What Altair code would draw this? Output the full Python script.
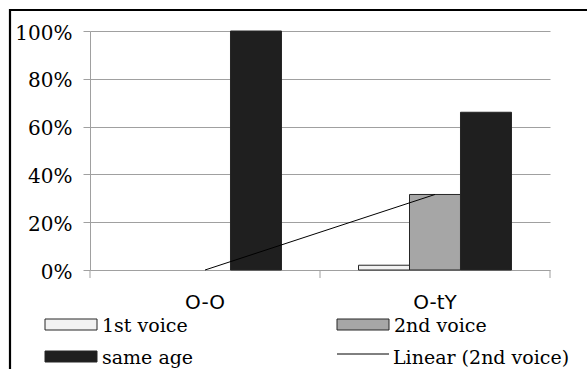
import altair as alt
import pandas as pd
import numpy as np

# ---------------- data ----------------
categories = ["O-O", "O-tY"]
series = ["1st voice", "2nd voice", "same age"]
first_voice = [0.0, 0.02]
second_voice = [0.0, 0.316]
same_age = [1.0, 0.66]
y_ticks = [0, 0.2, 0.4, 0.6, 0.8, 1.0]
trend_label = "Linear (2nd voice)"

# ---------------- styles / layout ----------------
fills = ["#f2f2f2", "#a6a6a6", "#1f1f1f"]
FONT = "DejaVu Serif"
XFONT = "DejaVu Sans"
GRID = "#a0a0a0"
W, H = 460, 239
PAD = {"left": 90, "top": 31, "right": 37, "bottom": 99}

rows = []
for s, vals in zip(series, [first_voice, second_voice, same_age]):
    for c, v in zip(categories, vals):
        rows.append({"category": c, "series": s, "value": v})
df = pd.DataFrame(rows)

# linear trend of 2nd voice
xi = np.arange(1, len(categories) + 1)
slope, intercept = np.polyfit(xi, second_voice, 1)
trend_df = pd.DataFrame({"category": categories, "value": slope * xi + intercept})

x_scale = alt.Scale(domain=categories, paddingInner=0, paddingOuter=0)
y_scale = alt.Scale(domain=[0, 1], nice=False)

bars = alt.Chart(df).transform_filter("datum.value > 0").mark_bar(
    stroke="#262626", strokeWidth=1
).encode(
    x=alt.X("category:N", scale=x_scale, sort=categories,
            axis=alt.Axis(title=None, labelAngle=0, domain=False, ticks=False, tickSize=0,
                          grid=False, labelFont=XFONT, labelFontSize=20, labelColor="black",
                          labelPadding=38, labelBaseline="alphabetic")),
    xOffset=alt.XOffset("series:N", sort=series,
                        scale=alt.Scale(domain=series, paddingInner=0, paddingOuter=0.755)),
    y=alt.Y("value:Q", scale=y_scale,
            axis=alt.Axis(title=None, values=y_ticks, format=".0%", grid=True, gridColor=GRID,
                          domainColor=GRID, tickColor=GRID, tickSize=7, labelPadding=11,
                          labelFont=FONT, labelFontSize=20, labelColor="black", labelOffset=2)),
    color=alt.Color("series:N", scale=alt.Scale(domain=series, range=fills), legend=None),
)

trend = alt.Chart(trend_df).mark_line(color="black", strokeWidth=1).encode(
    x=alt.X("category:N", scale=x_scale, sort=categories),
    y=alt.Y("value:Q", scale=y_scale),
)

# x-axis category boundary ticks
tick_df = pd.DataFrame({"px": [i * W / len(categories) for i in range(len(categories) + 1)]})
xticks = alt.Chart(tick_df).mark_rule(color=GRID, strokeWidth=1).encode(
    x=alt.X("px:Q", scale=None), y=alt.value(H), y2=alt.value(H + 8)
)

# outer frame
frame = alt.Chart(pd.DataFrame({"k": [0]})).mark_rect(
    fill=None, stroke="black", strokeWidth=2.2
).encode(x=alt.value(10 - PAD["left"]), x2=alt.value(700),
         y=alt.value(10 - PAD["top"]), y2=alt.value(500))

# manual legend (2 x 2)
col_x = [45 - PAD["left"], 337 - PAD["left"]]
row_base = [332 - PAD["top"], 364 - PAD["top"]]
sw_w, sw_h = 52, 11
entries = [(series[0], 0, 0), (series[1], 1, 0), (series[2], 0, 1)]
sw_df = pd.DataFrame([
    {"label": lab, "x": col_x[c], "x2": col_x[c] + sw_w,
     "y": row_base[r] - 13, "y2": row_base[r] - 13 + sw_h}
    for lab, c, r in entries
])
swatches = alt.Chart(sw_df).mark_rect(stroke="#262626", strokeWidth=1).encode(
    x=alt.X("x:Q", scale=None), x2="x2:Q",
    y=alt.Y("y:Q", scale=None), y2="y2:Q",
    color=alt.Color("label:N", scale=alt.Scale(domain=series, range=fills), legend=None),
)
line_df = pd.DataFrame([{"x": col_x[1], "x2": col_x[1] + sw_w, "y": row_base[1] - 10}])
line_sw = alt.Chart(line_df).mark_rule(color="black", strokeWidth=1).encode(
    x=alt.X("x:Q", scale=None), x2="x2:Q", y=alt.Y("y:Q", scale=None)
)
txt_df = pd.DataFrame(
    [{"label": lab, "x": col_x[c] + sw_w + 5, "y": row_base[r]} for lab, c, r in entries]
    + [{"label": trend_label, "x": col_x[1] + sw_w + 4, "y": row_base[1]}]
)
texts = alt.Chart(txt_df).mark_text(
    align="left", baseline="alphabetic", font=FONT, fontSize=19, color="black"
).encode(x=alt.X("x:Q", scale=None), y=alt.Y("y:Q", scale=None), text="label:N")

chart = alt.layer(frame, bars, trend, xticks, swatches, line_sw, texts).properties(
    width=W, height=H,
    autosize=alt.AutoSizeParams(type="none"),
    padding=PAD,
    background="white",
).configure_view(stroke=None)

chart.save("out.html", embed_options={"renderer": "svg", "actions": False})
